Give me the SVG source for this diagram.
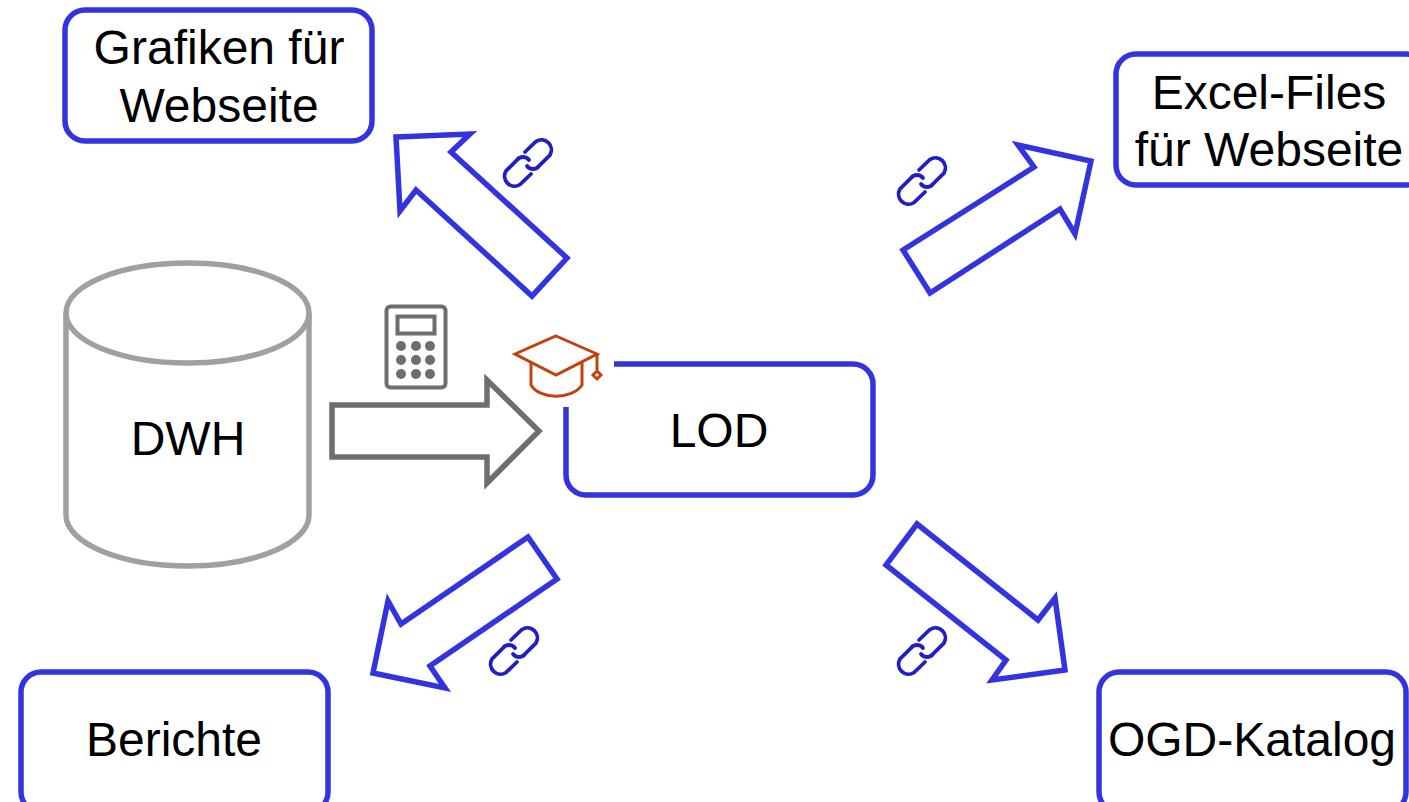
<svg xmlns="http://www.w3.org/2000/svg" width="1409" height="802" viewBox="0 0 1409 802">
<style>
.box{fill:#fff;stroke:#3333e0;stroke-width:5.500}
.arr{fill:#fff;stroke:#3333e0;stroke-width:5.500;stroke-linejoin:miter}
.t{font-family:"Liberation Sans",Arial,sans-serif;font-size:48px;fill:#000;text-anchor:middle}
.cyl{fill:#fff;stroke:#a0a0a0;stroke-width:5.500}
.l{fill:none;stroke:#1f1fc4;stroke-width:3.800;stroke-linecap:round}
</style>
<defs>
<g id="link">
<path class="l" d="M-3 -11 L8 -21.500 A10 10 0 0 1 22 -8 L11 3 A7.500 7.500 0 0 1 -1 3"/>
<path class="l" d="M3 11 L-8 21.500 A10 10 0 0 1 -22 8 L-11 -3 A7.500 7.500 0 0 1 1 -3"/>
</g>
</defs>
<g id="connectors">
<polygon class="arr" points="396,137 470,134 451,152 567,258 532,296 416,190 400,211"/>
<polygon class="arr" points="1091,161 1075,234 1060,209 930,293 903,250 1034,167 1018,145"/>
<polygon class="arr" points="373,673 388,601 401,624 528,537 557,579 430,666 445,688"/>
<polygon class="arr" points="1065,670 992,680 1006,660 886,565 917,524 1038,620 1055,598"/>
<polygon points="332,405 487,405 487,380 539,431 487,483 487,457 332,457" fill="#fff" stroke="#6e6e6e" stroke-width="5.500"/>
</g>
<g id="link-1"><use href="#link" x="528" y="163"/></g>
<g id="link-2"><use href="#link" x="922" y="181"/></g>
<g id="link-3"><use href="#link" x="514" y="651"/></g>
<g id="link-4"><use href="#link" x="922" y="651"/></g>
<g id="grafiken"><rect class="box" x="65" y="10" width="307" height="131" rx="20"/>
<text class="t" x="219" y="64">Grafiken für</text><text class="t" x="219" y="122">Webseite</text></g>
<g id="excel"><rect class="box" x="1116" y="54" width="310" height="131" rx="20"/>
<text class="t" x="1269" y="109">Excel-Files</text><text class="t" x="1269" y="166">für Webseite</text></g>
<g id="berichte"><rect class="box" x="21" y="672" width="307" height="140" rx="20"/>
<text class="t" x="174" y="756">Berichte</text></g>
<g id="ogd"><rect class="box" x="1099" y="672" width="307" height="140" rx="20"/>
<text class="t" x="1252" y="756">OGD-Katalog</text></g>
<g id="lod"><path class="box" d="M614 364 H853 A20 20 0 0 1 873 384 V475 A20 20 0 0 1 853 495 H586 A20 20 0 0 1 566 475 V407"/>
<text class="t" x="719" y="447">LOD</text></g>
<g id="dwh"><path class="cyl" d="M66 313 C66 285 120 263 188 263 C256 263 309 285 309 313 V515 C309 543 256 566 188 566 C120 566 66 543 66 515 Z"/>
<path class="cyl" style="fill:none" d="M66 313 C66 341 120 363 188 363 C256 363 309 341 309 313"/>
<text class="t" x="188" y="455">DWH</text></g>
<g id="calculator" fill="#6e6e6e">
<rect x="386.500" y="306.500" width="59" height="81" rx="4" fill="none" stroke="#6e6e6e" stroke-width="4"/>
<rect x="397.500" y="316.500" width="37" height="17" fill="none" stroke="#6e6e6e" stroke-width="4"/>
<circle cx="401" cy="346" r="5"/><circle cx="416" cy="346" r="5"/><circle cx="430" cy="346" r="5"/>
<circle cx="401" cy="360" r="5"/><circle cx="416" cy="360" r="5"/><circle cx="430" cy="360" r="5"/>
<circle cx="401" cy="374" r="5"/><circle cx="416" cy="374" r="5"/><circle cx="430" cy="374" r="5"/>
</g>
<g id="cap" fill="none" stroke="#c2410c" stroke-width="3">
<polygon points="556,336 597,354 556,375 515,354"/>
<path d="M531 363 V385 C540 400 572 400 582 385 V362"/>
<path d="M597 354 V370"/>
<polygon points="597,371 601,375 597,379 593,375"/>
</g>
</svg>
